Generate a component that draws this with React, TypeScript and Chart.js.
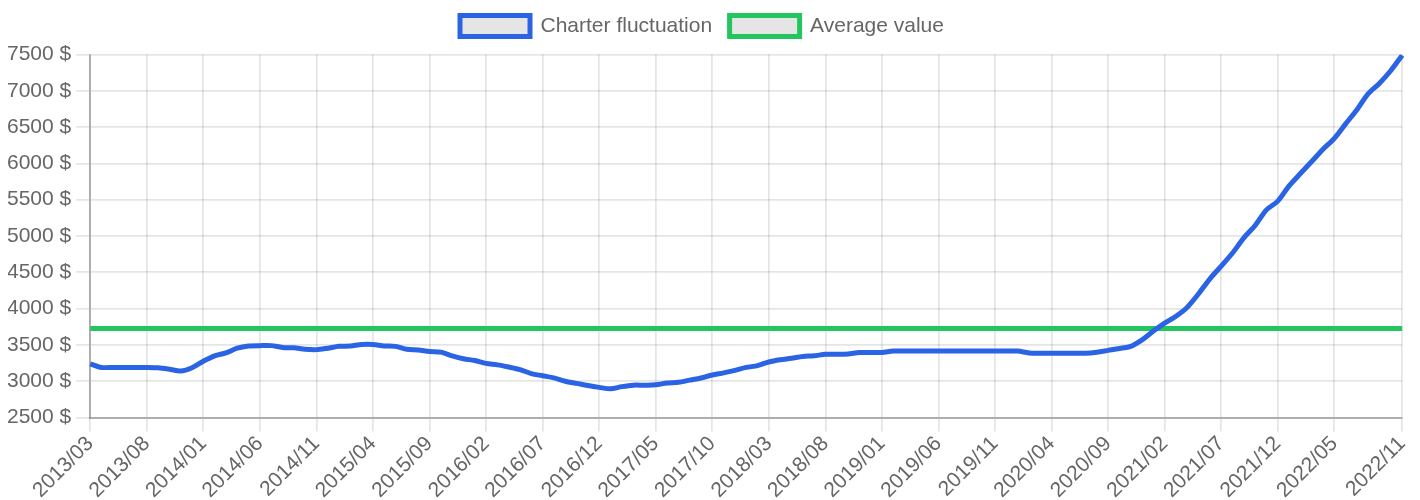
import React, { useEffect, useRef } from "react";
import { Chart, registerables } from "chart.js";

Chart.register(...registerables);

const months: string[] = [
  "2013/03", "2013/04", "2013/05", "2013/06", "2013/07", "2013/08", "2013/09", "2013/10", "2013/11", "2013/12",
  "2014/01", "2014/02", "2014/03", "2014/04", "2014/05", "2014/06", "2014/07", "2014/08", "2014/09", "2014/10", "2014/11", "2014/12",
  "2015/01", "2015/02", "2015/03", "2015/04", "2015/05", "2015/06", "2015/07", "2015/08", "2015/09", "2015/10", "2015/11", "2015/12",
  "2016/01", "2016/02", "2016/03", "2016/04", "2016/05", "2016/06", "2016/07", "2016/08", "2016/09", "2016/10", "2016/11", "2016/12",
  "2017/01", "2017/02", "2017/03", "2017/04", "2017/05", "2017/06", "2017/07", "2017/08", "2017/09", "2017/10", "2017/11", "2017/12",
  "2018/01", "2018/02", "2018/03", "2018/04", "2018/05", "2018/06", "2018/07", "2018/08", "2018/09", "2018/10", "2018/11", "2018/12",
  "2019/01", "2019/02", "2019/03", "2019/04", "2019/05", "2019/06", "2019/07", "2019/08", "2019/09", "2019/10", "2019/11", "2019/12",
  "2020/01", "2020/02", "2020/03", "2020/04", "2020/05", "2020/06", "2020/07", "2020/08", "2020/09", "2020/10", "2020/11", "2020/12",
  "2021/01", "2021/02", "2021/03", "2021/04", "2021/05", "2021/06", "2021/07", "2021/08", "2021/09", "2021/10", "2021/11", "2021/12",
  "2022/01", "2022/02", "2022/03", "2022/04", "2022/05", "2022/06", "2022/07", "2022/08", "2022/09", "2022/10", "2022/11",
];

const charterValues: number[] = [
  3240, 3190, 3190, 3190, 3190, 3190, 3185, 3165, 3140, 3185,
  3275, 3350, 3390, 3455, 3485, 3490, 3490, 3465, 3460, 3440, 3435, 3455,
  3480, 3485, 3505, 3505, 3485, 3480, 3440, 3430, 3410, 3400, 3350, 3310,
  3285, 3245, 3225, 3195, 3160, 3105, 3075, 3045, 3000, 2970, 2940, 2915,
  2895, 2925, 2945, 2945, 2950, 2975, 2985, 3015, 3045, 3085, 3115, 3150,
  3190, 3215, 3265, 3295, 3315, 3340, 3350, 3370, 3370, 3375, 3395, 3395,
  3395, 3415, 3415, 3415, 3415, 3415, 3415, 3415, 3415, 3415, 3415, 3415,
  3415, 3390, 3385, 3385, 3385, 3385, 3385, 3400, 3425, 3450, 3480, 3570,
  3690, 3800, 3895, 4020, 4205, 4410, 4585, 4765, 4975, 5145, 5360, 5480,
  5690, 5860, 6025, 6195, 6345, 6545, 6740, 6960, 7105, 7280, 7490,
];

const averageValue = 3725;
const averageValues: number[] = months.map(() => averageValue);

const seriesNames: string[] = ["Charter fluctuation", "Average value"];
const yTicks: number[] = [2500, 3000, 3500, 4000, 4500, 5000, 5500, 6000, 6500, 7000, 7500];
const shownTickLabels: string[] = [
  "2013/03", "2013/08", "2014/01", "2014/06", "2014/11", "2015/04", "2015/09", "2016/02",
  "2016/07", "2016/12", "2017/05", "2017/10", "2018/03", "2018/08", "2019/01", "2019/06",
  "2019/11", "2020/04", "2020/09", "2021/02", "2021/07", "2021/12", "2022/05", "2022/11",
];

const FONT = "'Helvetica Neue', Helvetica, Arial, 'Liberation Sans', sans-serif";
const GRID = "rgba(0,0,0,0.1)";

const legendTweak = {
  id: "legendTweak",
  beforeLayout(chart: any) {
    const lg = chart.legend;
    if (lg && !lg._patched) {
      const orig = lg.fit;
      lg.fit = function () {
        orig.call(this);
        this.height += 8;
      };
      lg._patched = true;
    }
  },
  afterLayout(chart: any) {
    const lg = chart.legend;
    if (lg) {
      lg.left -= 9;
      lg.right -= 9;
    }
  },
};

export default function App() {
  const ref = useRef<HTMLCanvasElement | null>(null);

  useEffect(() => {
    document.body.style.overflow = "hidden";
    if (!ref.current) return;
    const isShown = (i: number) => shownTickLabels.includes(months[i]);
    const chart = new Chart(ref.current, {
      type: "line",
      data: {
        labels: months,
        datasets: [
          {
            label: seriesNames[0],
            data: charterValues,
            borderColor: "#2a63e4",
            backgroundColor: "rgba(0,0,0,0.1)",
            borderWidth: 5,
            pointRadius: 0,
            tension: 0.3,
            fill: false,
          },
          {
            label: seriesNames[1],
            data: averageValues,
            borderColor: "#22c55e",
            backgroundColor: "rgba(0,0,0,0.1)",
            borderWidth: 5,
            pointRadius: 0,
            tension: 0,
            fill: false,
          },
        ],
      },
      plugins: [legendTweak],
      options: {
        responsive: false,
        animation: false,
        layout: { padding: { left: 0, right: 0, top: 0, bottom: 0 } },
        font: { family: FONT, size: 21 },
        plugins: {
          legend: {
            position: "top",
            labels: {
              color: "#666",
              boxWidth: 70,
              boxHeight: 21,
              padding: 17.5,
              font: { family: FONT, size: 21 },
            },
          },
          tooltip: { enabled: false },
        },
        scales: {
          x: {
            grid: {
              color: (ctx: any) => (isShown(ctx.index) ? GRID : "transparent"),
              lineWidth: 1.75,
              tickLength: 14,
            },
            border: { color: "rgba(0,0,0,0.25)", width: 2 },
            ticks: {
              autoSkip: false,
              maxRotation: 45,
              minRotation: 45,
              padding: 0,
              color: "#666",
              font: { family: FONT, size: 21 },
              callback: (_v: any, i: number) => (isShown(i) ? months[i] : ""),
            },
          },
          y: {
            min: yTicks[0],
            max: yTicks[yTicks.length - 1],
            grid: { color: GRID, lineWidth: 1.75, tickLength: 14 },
            border: { color: "rgba(0,0,0,0.25)", width: 2 },
            afterBuildTicks: (scale: any) => {
              scale.ticks = yTicks.map((v) => ({ value: v }));
            },
            ticks: {
              padding: 5,
              color: "#666",
              font: { family: FONT, size: 21 },
              callback: (v: any) => `${v} $`,
            },
          },
        },
      },
    });
    return () => chart.destroy();
  }, []);

  return (
    <div style={{ width: 1418, height: 505, marginLeft: -6, marginTop: -10 }}>
      <canvas ref={ref} width={1418} height={505} style={{ display: "block" }} />
    </div>
  );
}
